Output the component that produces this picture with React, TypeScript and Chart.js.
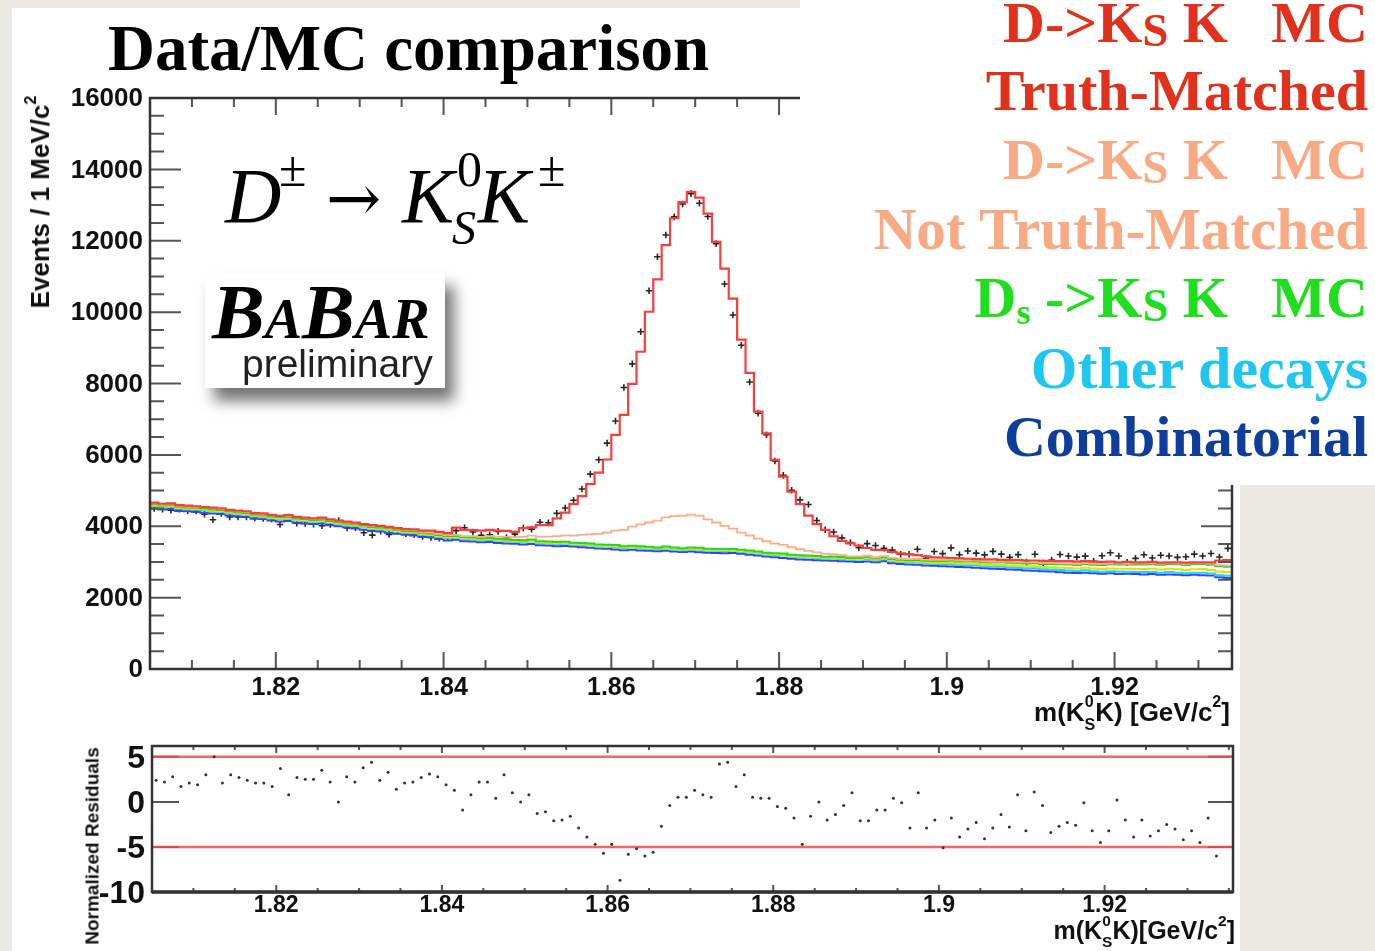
import { useEffect, useRef } from 'react';
import { Chart, registerables } from 'chart.js';
Chart.register(...registerables);

// ---------------- data ----------------
const BIN_LO = 1.805;
const BIN_W = 0.001;

// Combinatorial (bottom of the stack)
const COMB = [
  4500, 4470, 4480, 4430, 4420, 4400, 4380, 4360, 4340, 4300,
  4280, 4260, 4210, 4200, 4160, 4130, 4150, 4100, 4080, 4060,
  4080, 4030, 4000, 3970, 3940, 3900, 3870, 3850, 3820, 3790,
  3760, 3740, 3700, 3690, 3640, 3600, 3620, 3580, 3570, 3550,
  3560, 3530, 3520, 3510, 3490, 3500, 3470, 3460, 3440, 3450,
  3430, 3410, 3400, 3380, 3370, 3350, 3330, 3340, 3320, 3310,
  3300, 3310, 3290, 3280, 3290, 3270, 3260, 3250, 3240, 3250,
  3230, 3200, 3180, 3150, 3130, 3110, 3090, 3070, 3060, 3050,
  3040, 3030, 3020, 3010, 3000, 3010, 2990, 3020, 2960, 2940,
  2930, 2920, 2900, 2890, 2880, 2870, 2860, 2850, 2840, 2820,
  2810, 2800, 2790, 2780, 2760, 2750, 2740, 2730, 2710, 2700,
  2690, 2700, 2680, 2670, 2680, 2660, 2670, 2660, 2650, 2660,
  2640, 2650, 2640, 2630, 2640, 2630, 2620, 2570, 2550,
];
// Other decays (contribution)
const OTHER = [
  60, 55, 65, 60, 50, 60, 70, 55, 60, 65,
  55, 60, 65, 50, 60, 70, 55, 60, 65, 60,
  55, 65, 60, 50, 60, 70, 55, 60, 65, 60,
  55, 65, 60, 55, 60, 70, 55, 60, 65, 60,
  58, 65, 60, 50, 62, 70, 55, 60, 65, 60,
  55, 65, 60, 55, 60, 70, 55, 62, 65, 60,
  55, 65, 60, 50, 60, 70, 55, 60, 65, 60,
  55, 65, 60, 55, 60, 70, 55, 60, 65, 60,
  55, 65, 60, 50, 60, 70, 55, 60, 65, 60,
  55, 65, 60, 55, 60, 70, 55, 60, 65, 60,
  55, 65, 60, 50, 60, 70, 55, 60, 65, 60,
  55, 65, 60, 55, 60, 70, 55, 60, 65, 60,
  55, 65, 60, 50, 60, 70, 55, 60, 65,
];
// yellow component (contribution)
const YELLOW_C = [
  20, 21, 19, 20, 22, 20, 19, 21, 20, 20,
  21, 19, 20, 22, 20, 19, 21, 20, 20, 21,
  19, 20, 22, 20, 19, 21, 20, 20, 21, 19,
  20, 22, 20, 19, 21, 20, 20, 21, 19, 20,
  22, 20, 19, 21, 20, 20, 21, 19, 20, 22,
  20, 19, 21, 20, 20, 21, 19, 20, 22, 20,
  19, 21, 20, 20, 21, 19, 20, 22, 20, 19,
  21, 20, 20, 21, 19, 20, 22, 20, 19, 21,
  20, 20, 21, 19, 20, 22, 20, 19, 21,
  22, 24, 27, 29, 31, 34, 36, 38, 40, 43,
  45, 47, 50, 52, 54, 56, 59, 61, 63, 65,
  68, 70, 72, 74, 77, 79, 81, 83, 86, 88,
  90, 92, 94, 96, 97, 98, 99, 100, 100, 100,
];
// Ds -> Ks K MC (contribution)
const DS = [
  35, 34, 36, 35, 33, 35, 37, 35, 34, 36,
  35, 33, 36, 35, 34, 37, 35, 34, 36, 35,
  33, 35, 36, 34, 35, 37, 35, 33, 36, 35,
  34, 36, 35, 33, 35, 37, 34, 35, 36, 35,
  33, 35, 36, 34, 35, 37, 35, 33, 36, 35,
  34, 36, 35, 33, 35, 37, 34, 35, 36, 35,
  33, 35, 36, 34, 35, 37, 35, 33, 36, 35,
  34, 36, 35, 33, 35, 37, 34, 35, 36, 35,
  33, 35, 36, 34, 35, 37, 35, 33, 36,
  38, 41, 44, 47, 50, 53, 56, 59, 62, 65,
  68, 71, 74, 77, 80, 83, 86, 89, 92, 95,
  98, 101, 104, 107, 110, 113, 116, 119, 122, 125,
  128, 131, 134, 137, 140, 142, 144, 146, 148, 150,
];
// D -> Ks K MC, not truth-matched (contribution)
const NOT_TM = [
  30, 28, 32, 30, 27, 31, 33, 29, 30, 32,
  28, 30, 31, 29, 33, 30, 28, 32, 30, 29,
  31, 30, 28, 32, 30, 29, 31, 33, 30, 28,
  30, 32, 29, 31, 30, 28, 32, 30, 34,
  40, 50, 60, 70, 80, 95, 110, 120, 140, 160,
  180, 200, 230, 260, 300, 340, 400, 460, 530, 610,
  680, 750, 820, 880, 910, 920, 900, 820, 740, 650,
  570, 480, 420, 360, 320, 270, 240, 210, 170, 130,
  100, 80, 65, 55, 45, 40,
  35, 32, 30, 31, 29, 30, 28, 31, 30, 29,
  30, 32, 28, 30, 31, 29, 30, 28, 32, 30,
  29, 31, 30, 28, 30, 32, 29, 30, 31, 28,
  30, 29, 31, 30, 28, 32, 30, 29, 31, 30,
  28, 30, 31, 29,
];
// Full MC (truth-matched on top) as drawn in red
const MC_TOTAL = [
  4660, 4630, 4640, 4590, 4580, 4560, 4540, 4520, 4500, 4460,
  4440, 4420, 4370, 4360, 4320, 4290, 4310, 4260, 4240, 4220,
  4240, 4190, 4160, 4130, 4100, 4060, 4030, 4010, 3980, 3950,
  3920, 3910, 3880, 3880, 3840, 3810, 3960, 3900, 3890, 3880,
  3900, 3880, 3870, 3840, 3950, 3970, 4030, 4030, 4220, 4380,
  4620, 4845, 5180, 5505, 5870, 6560, 7120, 7990, 8890, 10010,
  10920, 11880, 12630, 13080, 13370, 13210, 12760, 11970, 11220, 10380,
  9230, 8300, 7210, 6600, 5860, 5390, 4970, 4620, 4300, 4060,
  3900, 3720, 3590, 3520, 3460, 3390, 3340, 3330, 3280, 3240,
  3210, 3190, 3160, 3130, 3120, 3110, 3100, 3090, 3080, 3070,
  3070, 3060, 3050, 3050, 3040, 3040, 3030, 3030, 3020, 3020,
  3010, 3020, 3010, 3000, 3010, 2990, 3000, 2990, 2990, 3000,
  2980, 2990, 2990, 2980, 2990, 2990, 2990, 3040, 3050,
];
// Data points
const DATA = [
  4496, 4480, 4449, 4475, 4438, 4432, 4338, 4184, 4359, 4260,
  4260, 4260, 4231, 4221, 4208, 4048, 4257, 4084, 4077, 4058,
  4012, 4048, 4160, 3950, 3959, 3818, 3751, 3858, 3772, 3862,
  3789, 3772, 3712, 3687, 3667, 3693, 3878, 3956, 3840, 3743,
  3763, 3855, 3683, 3778, 3950, 3920, 4113, 4100, 4360, 4510,
  4730, 5045, 5460, 5865, 6330, 6950, 7890, 8550, 9450, 10600,
  11550, 12160, 12670, 13030, 13320, 13050, 12680, 11920, 10790, 9920,
  9070, 8040, 7165, 6565, 5830, 5425, 5010, 4740, 4610, 4160,
  3900, 3840, 3675, 3545, 3400, 3512, 3461, 3382, 3332, 3217,
  3216, 3354, 3104, 3292, 3232, 3394, 3200, 3307, 3246, 3197,
  3297, 3220, 3127, 3205, 2996, 3216, 2969, 3052, 3207, 3168,
  3136, 3163, 3015, 3175, 3257, 3165, 2989, 3099, 3203, 3110,
  3187, 3165, 3127, 3144, 3220, 3165, 3236, 3139, 3381,
];
// Normalized residuals
const RESID = [
  2.4, 2.2, 2.8, 1.7, 2.1, 1.9, 3.0, 5.0, 2.1, 3.0,
  2.7, 2.4, 2.1, 2.1, 1.7, 3.7, 0.8, 2.7, 2.5, 2.5,
  3.5, 2.2, 0.0, 2.8, 2.2, 3.8, 4.4, 2.4, 3.3, 1.4,
  2.1, 2.2, 2.7, 3.1, 2.8, 1.9, 1.3, -0.9, 0.8, 2.2,
  2.2, 0.4, 3.0, 1.0, 0.0, 0.8, -1.3, -1.1, -2.1, -2.0,
  -1.6, -2.9, -3.9, -4.7, -5.7, -4.7, -8.7, -5.8, -5.2, -6.0,
  -5.6, -2.7, -0.4, 0.5, 0.5, 1.3, 0.8, 0.5, 4.2, 4.4,
  1.7, 3.0, 0.5, 0.4, 0.4, -0.5, -0.7, -1.8, -4.7, -1.6,
  0.0, -2.0, -1.4, -0.4, 1.0, -2.1, -2.1, -0.9, -0.9, 0.4,
  -0.1, -2.9, 1.0, -2.9, -2.0, -5.1, -1.8, -3.9, -3.0, -2.3,
  -4.1, -2.9, -1.4, -2.8, 0.8, -3.2, 1.1, -0.4, -3.4, -2.7,
  -2.3, -2.6, -0.1, -3.2, -4.5, -3.2, 0.2, -2.0, -3.9, -2.0,
  -3.8, -3.2, -2.5, -3.0, -4.2, -3.2, -4.5, -1.8, -6.0,
];
const RES_BANDS = [5, -5];

const X_TICKS = [1.82, 1.84, 1.86, 1.88, 1.9, 1.92];
const X_TICK_LABELS = ['1.82', '1.84', '1.86', '1.88', '1.9', '1.92'];
const Y_TICKS = [0, 2000, 4000, 6000, 8000, 10000, 12000, 14000, 16000];
const Y_TICK_LABELS = ['0', '2000', '4000', '6000', '8000', '10000', '12000', '14000', '16000'];
const R_TICKS = [5, 0, -5, -10];
const R_TICK_LABELS = ['5', '0', '-5', '-10'];

const MAIN_X = [1.805, 1.934];
const MAIN_Y = [0, 16000];
const RES_X = [1.805, 1.9355];
const RES_Y = [-10, 6.2];
const X_MINOR = 0.005;
const Y_MINOR = 500;

// ---------------- helpers ----------------
const SERIF = '"Liberation Serif", "Times New Roman", serif';
const SANS = '"Liberation Sans", Arial, Helvetica, sans-serif';
const DJV = '"DejaVu Serif", serif';

const addUp = (a: number[], b: number[]) => a.map((v, i) => v + b[i]);
const L_OTHER = addUp(COMB, OTHER);
const L_YEL = addUp(L_OTHER, YELLOW_C);
const L_DS = addUp(L_YEL, DS);
const L_NTM = addUp(L_DS, NOT_TM);

const stepPts = (vals: number[]) =>
  vals
    .map((v, i) => ({ x: BIN_LO + i * BIN_W, y: v }))
    .concat([{ x: BIN_LO + vals.length * BIN_W, y: vals[vals.length - 1] }]);
const centerPts = (vals: number[]) => vals.map((v, i) => ({ x: BIN_LO + (i + 0.5) * BIN_W, y: v }));

const isMajorX = (v: number) => X_TICKS.some((t) => Math.abs(t - v) < 1e-7);

const histDs = (vals: number[], color: string, width = 2) => ({
  data: stepPts(vals),
  borderColor: color,
  borderWidth: width,
  stepped: 'before',
  pointRadius: 0,
  fill: false,
  showLine: true,
});

const mainFrame = {
  id: 'mainFrame',
  afterDatasetsDraw(chart: any) {
    const { ctx, chartArea: a } = chart;
    const xs = chart.scales.x;
    const ys = chart.scales.y;
    ctx.save();
    ctx.strokeStyle = '#555';
    ctx.lineWidth = 2;
    ctx.beginPath();
    const k0 = Math.ceil(xs.min / X_MINOR - 1e-6);
    const k1 = Math.floor(xs.max / X_MINOR + 1e-6);
    for (let k = k0; k <= k1; k++) {
      const v = k * X_MINOR;
      const px = xs.getPixelForValue(v);
      const len = isMajorX(v) ? 17 : 9;
      ctx.moveTo(px, a.bottom);
      ctx.lineTo(px, a.bottom - len);
      ctx.moveTo(px, a.top);
      ctx.lineTo(px, a.top + len);
    }
    for (let v = MAIN_Y[0]; v <= MAIN_Y[1]; v += Y_MINOR) {
      const py = ys.getPixelForValue(v);
      const len = Y_TICKS.includes(v) ? 31 : 14;
      ctx.moveTo(a.left, py);
      ctx.lineTo(a.left + len, py);
      ctx.moveTo(a.right, py);
      ctx.lineTo(a.right - len, py);
    }
    ctx.stroke();
    ctx.strokeStyle = '#333';
    ctx.lineWidth = 2.5;
    ctx.strokeRect(a.left, a.top, a.right - a.left, a.bottom - a.top);
    ctx.fillStyle = '#111';
    ctx.font = `bold 26px ${SANS}`;
    ctx.textAlign = 'right';
    ctx.textBaseline = 'middle';
    Y_TICKS.forEach((v, i) => ctx.fillText(Y_TICK_LABELS[i], a.left - 7, ys.getPixelForValue(v) + 1));
    ctx.textAlign = 'center';
    ctx.font = `bold 25px ${SANS}`;
    X_TICKS.forEach((v, i) => ctx.fillText(X_TICK_LABELS[i], xs.getPixelForValue(v), a.bottom + 19));
    ctx.restore();
  },
};

const resFrame = {
  id: 'resFrame',
  beforeDatasetsDraw(chart: any) {
    const { ctx, chartArea: a } = chart;
    const ys = chart.scales.y;
    ctx.save();
    ctx.strokeStyle = '#555';
    ctx.lineWidth = 2;
    ctx.beginPath();
    R_TICKS.forEach((v) => {
      const py = ys.getPixelForValue(v);
      ctx.moveTo(a.left, py);
      ctx.lineTo(a.left + 27, py);
      ctx.moveTo(a.right, py);
      ctx.lineTo(a.right - 25, py);
    });
    ctx.stroke();
    ctx.restore();
  },
  afterDatasetsDraw(chart: any) {
    const { ctx, chartArea: a } = chart;
    const xs = chart.scales.x;
    const ys = chart.scales.y;
    ctx.save();
    ctx.strokeStyle = '#555';
    ctx.lineWidth = 2;
    ctx.beginPath();
    const k0 = Math.ceil(xs.min / X_MINOR - 1e-6);
    const k1 = Math.floor(xs.max / X_MINOR + 1e-6);
    for (let k = k0; k <= k1; k++) {
      const v = k * X_MINOR;
      const px = xs.getPixelForValue(v);
      const len = isMajorX(v) ? 7 : 4;
      ctx.moveTo(px, a.bottom);
      ctx.lineTo(px, a.bottom - len);
      ctx.moveTo(px, a.top);
      ctx.lineTo(px, a.top + len);
    }
    ctx.stroke();
    ctx.strokeStyle = '#333';
    ctx.lineWidth = 2.5;
    ctx.strokeRect(a.left, a.top, a.right - a.left, a.bottom - a.top);
    ctx.lineWidth = 3.5;
    ctx.beginPath();
    ctx.moveTo(a.left, a.bottom);
    ctx.lineTo(a.right, a.bottom);
    ctx.stroke();
    ctx.fillStyle = '#111';
    ctx.font = `bold 32px ${SANS}`;
    ctx.textAlign = 'right';
    ctx.textBaseline = 'middle';
    R_TICKS.forEach((v, i) => ctx.fillText(R_TICK_LABELS[i], a.left - 7, ys.getPixelForValue(v) + 2));
    ctx.textAlign = 'center';
    ctx.font = `bold 23px ${SANS}`;
    X_TICKS.forEach((v, i) => ctx.fillText(X_TICK_LABELS[i], xs.getPixelForValue(v), a.bottom + 14));
    ctx.restore();
  },
};

function T({ x, y, fs, family = SERIF, weight = 'normal', italic = false, color = '#000', align = 'left', children }: any) {
  const m = family === SANS ? 0.8465 : family === DJV ? 0.846 : 0.8375;
  const style: any = {
    position: 'absolute',
    top: y - m * fs,
    fontSize: fs,
    lineHeight: `${fs}px`,
    fontFamily: family,
    fontWeight: weight,
    fontStyle: italic ? 'italic' : 'normal',
    color,
    whiteSpace: 'pre',
  };
  if (align === 'right') style.right = 1375 - x;
  else style.left = x;
  return <div style={style}>{children}</div>;
}

const Sub = ({ children, s = 0.62, dy = 0.3, ml = 0 }: any) => (
  <span style={{ fontSize: `${s}em`, position: 'relative', top: `${dy}em`, lineHeight: 0, marginLeft: `${ml}em` }}>{children}</span>
);

const LEG_RED = '#e1311d';
const LEG_PEACH = '#f8aa85';
const LEG_GREEN = '#1ede1e';
const LEG_CYAN = '#1fc6ef';
const LEG_BLUE = '#0e3d9a';

export default function App() {
  const mainRef = useRef<HTMLCanvasElement>(null);
  const resRef = useRef<HTMLCanvasElement>(null);

  useEffect(() => {
    const common: any = {
      animation: false,
      responsive: false,
      devicePixelRatio: 1,
      events: [],
      plugins: { legend: { display: false }, tooltip: { enabled: false } },
    };
    const c1 = new Chart(mainRef.current as HTMLCanvasElement, {
      type: 'line',
      data: {
        datasets: [
          histDs(MC_TOTAL, '#ff3c3c', 2.2),
          histDs(L_NTM, '#ffae88', 1.8),
          histDs(L_DS, '#26d626', 2),
          histDs(L_YEL, '#e2e200', 2),
          histDs(L_OTHER, '#1ad8ff', 2),
          histDs(COMB, '#3344ff', 2),
          {
            data: centerPts(DATA),
            showLine: false,
            pointStyle: 'cross',
            pointRadius: 3.3,
            pointBorderWidth: 1.6,
            borderColor: '#262626',
            pointBorderColor: '#262626',
          },
        ] as any,
      },
      options: {
        ...common,
        layout: { padding: { left: 150, top: 98, right: 143, bottom: 61 } },
        scales: {
          x: { type: 'linear', min: MAIN_X[0], max: MAIN_X[1], display: false },
          y: { type: 'linear', min: MAIN_Y[0], max: MAIN_Y[1], display: false },
        },
      },
      plugins: [mainFrame],
    } as any);

    const c2 = new Chart(resRef.current as HTMLCanvasElement, {
      type: 'line',
      data: {
        datasets: [
          {
            data: centerPts(RESID),
            showLine: false,
            pointStyle: 'circle',
            pointRadius: 1.5,
            pointBorderWidth: 0,
            backgroundColor: '#333',
            pointBackgroundColor: '#333',
          },
          ...RES_BANDS.map((b) => ({
            data: [
              { x: RES_X[0], y: b },
              { x: RES_X[1], y: b },
            ],
            borderColor: 'rgba(255,70,70,0.85)',
            borderWidth: 2.5,
            pointRadius: 0,
            fill: false,
          })),
        ] as any,
      },
      options: {
        ...common,
        layout: { padding: { left: 152, top: 16, right: 142, bottom: 59 } },
        scales: {
          x: { type: 'linear', min: RES_X[0], max: RES_X[1], display: false },
          y: { type: 'linear', min: RES_Y[0], max: RES_Y[1], display: false },
        },
      },
      plugins: [resFrame],
    } as any);

    return () => {
      c1.destroy();
      c2.destroy();
    };
  }, []);

  return (
    <div style={{ position: 'absolute', left: 0, top: 0, width: 1375, height: 951, background: '#ece8e2', overflow: 'hidden' }}>
      <div style={{ position: 'absolute', left: 12, top: 8, width: 1228, height: 943, background: '#fff' }} />
      <canvas ref={mainRef} width={1375} height={730} style={{ position: 'absolute', left: 0, top: 0, width: 1375, height: 730 }} />
      <canvas ref={resRef} width={1375} height={221} style={{ position: 'absolute', left: 0, top: 730, width: 1375, height: 221 }} />

      {/* legend box */}
      <div style={{ position: 'absolute', left: 800, top: 0, width: 575, height: 485, background: '#fff' }} />
      <T x={1368} y={43} fs={58} weight="bold" color={LEG_RED} align="right">
        {'D->K'}<Sub s={0.8} dy={0.08}>S</Sub>{' K   MC'}
      </T>
      <T x={1368} y={111} fs={58} weight="bold" color={LEG_RED} align="right">Truth-Matched</T>
      <T x={1368} y={180} fs={58} weight="bold" color={LEG_PEACH} align="right">
        {'D->K'}<Sub s={0.8} dy={0.08}>S</Sub>{' K   MC'}
      </T>
      <T x={1368} y={249} fs={59} weight="bold" color={LEG_PEACH} align="right">Not Truth-Matched</T>
      <T x={1368} y={318} fs={58} weight="bold" color={LEG_GREEN} align="right">
        {'D'}<Sub s={0.62} dy={0.18}>s</Sub>{' ->K'}<Sub s={0.8} dy={0.08}>S</Sub>{' K   MC'}
      </T>
      <T x={1368} y={388} fs={60} weight="bold" color={LEG_CYAN} align="right">Other decays</T>
      <T x={1368} y={457} fs={58} weight="bold" color={LEG_BLUE} align="right">Combinatorial</T>

      {/* title */}
      <T x={108} y={70} fs={65} weight="bold">Data/MC comparison</T>

      {/* formula */}
      <T x={225} y={222} fs={78} italic>D</T>
      <T x={279} y={186} fs={50}>±</T>
      <T x={326} y={222} fs={66} family={DJV}>→</T>
      <T x={402} y={222} fs={78} italic>K</T>
      <T x={457} y={186} fs={50}>0</T>
      <T x={452} y={244} fs={48} italic>S</T>
      <T x={478} y={222} fs={78} italic>K</T>
      <T x={538} y={186} fs={50}>±</T>

      {/* BaBar logo */}
      <div style={{ position: 'absolute', left: 205, top: 273, width: 240, height: 115, background: '#fff', boxShadow: '9px 13px 14px rgba(0,0,0,0.55)' }} />
      <T x={212} y={338} fs={79} weight="bold" italic>
        B<span style={{ fontSize: '0.71em', lineHeight: 0 }}>A</span>B<span style={{ fontSize: '0.71em', lineHeight: 0 }}>AR</span>
      </T>
      <T x={242} y={377} fs={39} family={SANS} color="#222">preliminary</T>

      {/* axis titles */}
      <div
        style={{
          position: 'absolute',
          left: 40,
          top: 202,
          transform: 'translate(-50%, -50%) rotate(-90deg)',
          whiteSpace: 'nowrap',
          fontFamily: SANS,
          fontWeight: 'bold',
          fontSize: 26,
          lineHeight: '26px',
          color: '#111',
        }}
      >
        Events / 1 MeV/c<Sub s={0.62} dy={-0.8}>2</Sub>
      </div>
      <div
        style={{
          position: 'absolute',
          left: 92,
          top: 846,
          transform: 'translate(-50%, -50%) rotate(-90deg)',
          whiteSpace: 'nowrap',
          fontFamily: SANS,
          fontWeight: 'bold',
          fontSize: 19,
          lineHeight: '19px',
          color: '#111',
        }}
      >
        Normalized Residuals
      </div>
      <T x={1230} y={721} fs={26} family={SANS} weight="bold" color="#111" align="right">
        {'m(K'}<Sub s={0.62} dy={-0.85}>0</Sub><Sub s={0.62} dy={0.55} ml={-0.56}>S</Sub>{'K) [GeV/c'}<Sub s={0.62} dy={-0.85}>2</Sub>{']'}
      </T>
      <T x={1235} y={939} fs={25} family={SANS} weight="bold" color="#111" align="right">
        {'m(K'}<Sub s={0.62} dy={-0.85}>0</Sub><Sub s={0.62} dy={0.55} ml={-0.56}>S</Sub>{'K)[GeV/c'}<Sub s={0.62} dy={-0.85}>2</Sub>{']'}
      </T>
    </div>
  );
}
